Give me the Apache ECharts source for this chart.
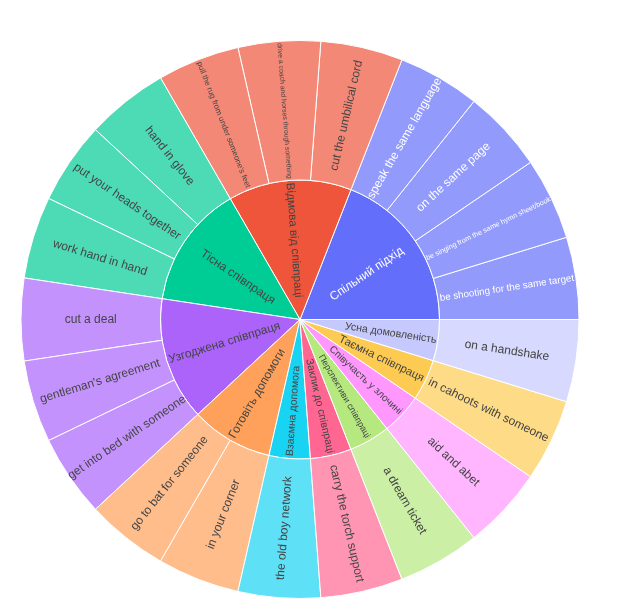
<!DOCTYPE html>
<html>
<head>
<meta charset="utf-8">
<script src="https://cdn.jsdelivr.net/npm/echarts@6/dist/echarts.min.js"></script>
<style>
html,body{margin:0;padding:0;background:#fff;}
#chart{width:623px;height:600px;}
</style>
</head>
<body>
<div id="chart"></div>
<script>
// ---- data ----
const categories = ['Спільний підхід', 'Відмова від співпраці', 'Тісна співпраця', 'Узгоджена співпраця', 'Готовіть допомоги', 'Взаємна допомога', 'Заклик до співпраці', 'Перспективи співпраці', 'Співучасть у злочині', 'Таємна співпраця', 'Усна домовленість'];
const idioms = [
  ['be shooting for the same target', 'be singing from the same hymn sheet/book', 'on the same page', 'speak the same language'],
  ['cut the umbilical cord', 'drive a coach and horses through something', "pull the rug from under someone's feet"],
  ['hand in glove', 'put your heads together', 'work hand in hand'],
  ['cut a deal', "gentleman's agreement", 'get into bed with someone'],
  ['go to bat for someone', 'in your corner'],
  ['the old boy network'],
  ['carry the torch support'],
  ['a dream ticket'],
  ['aid and abet'],
  ['in cahoots with someone'],
  ['on a handshake']
];
const idiomValues = [
  [1, 1, 1, 1],
  [1, 1, 1],
  [1, 1, 1],
  [1, 1, 1],
  [1, 1],
  [1],
  [1],
  [1],
  [1],
  [1],
  [1]
];

// ---- styles ----
const parentColors = ['#636efa', '#EF553B', '#00cc96', '#ab63fa', '#FFA15A', '#19d3f3', '#FF6692', '#B6E880', '#FF97FF', '#FECB52', '#c6c9fd'];
const parentTextColors = ['#ffffff', '#444', '#444', '#444', '#444', '#444', '#444', '#444', '#444', '#444', '#444'];
const parentFontSizes = [12, 11.6, 12, 12, 12, 10.5, 10.6, 9, 10, 11.3, 10.6];
const parentLabelEnd = [124, 137, 119, 137, 136, 137, 137, 136, 137, 137, 138];
const leafFontSizes = {
  'be shooting for the same target': 9.8,
  'be singing from the same hymn sheet/book': 7.2,
  'drive a coach and horses through something': 6.9,
  "pull the rug from under someone's feet": 7.9
};

function blend(hex, a) {
  const h = hex.replace('#', '');
  const r = parseInt(h.substr(0, 2), 16), g = parseInt(h.substr(2, 2), 16), b = parseInt(h.substr(4, 2), 16);
  const f = v => Math.round(v * a + 255 * (1 - a));
  return 'rgb(' + f(r) + ',' + f(g) + ',' + f(b) + ')';
}

const data = categories.map((name, i) => ({
  name: name,
  itemStyle: { color: parentColors[i] },
  label: { color: parentTextColors[i], fontSize: parentFontSizes[i], align: 'right', distance: 139.5 - parentLabelEnd[i] },
  children: idioms[i].map((leaf, j) => ({
    name: leaf,
    value: idiomValues[i][j],
    itemStyle: { color: blend(parentColors[i], 0.7) },
    label: { color: parentTextColors[i], fontSize: leafFontSizes[leaf] || 12, align: 'center' }
  }))
}));

const chart = echarts.init(document.getElementById('chart'), null, { renderer: 'canvas' });
chart.setOption({
  backgroundColor: '#ffffff',
  animation: false,
  series: [{
    type: 'sunburst',
    center: [300, 319.5],
    radius: [0, 279],
    startAngle: 0,
    clockwise: false,
    sort: null,
    nodeClick: false,
    emphasis: { focus: 'none' },
    itemStyle: { borderColor: '#ffffff', borderWidth: 1 },
    label: { rotate: 'radial', fontFamily: 'Liberation Sans, Arial, sans-serif', color: '#444', fontSize: 12 },
    levels: [
      {},
      { r0: 0, r: 139.5, label: { rotate: 'radial' } },
      { r0: 139.5, r: 279, label: { rotate: 'radial', align: 'center' } }
    ],
    data: data
  }]
});
</script>
</body>
</html>
